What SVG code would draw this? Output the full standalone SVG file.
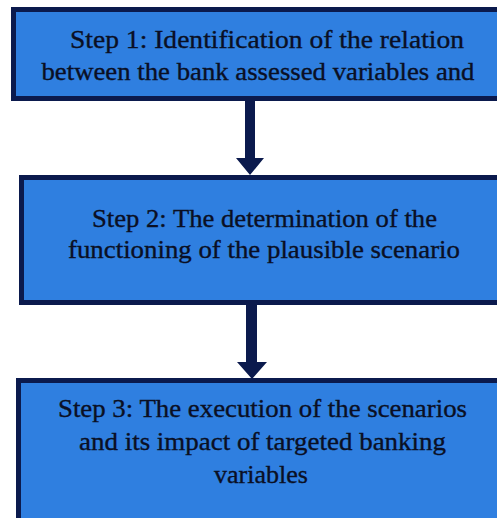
<svg xmlns="http://www.w3.org/2000/svg" width="497" height="518" viewBox="0 0 497 518">
  <style>
    .box { fill: #2f7fe0; stroke: #0b1a4d; stroke-width: 5; }
    .lbl { font-family: "Liberation Serif", "Times New Roman", serif; font-size: 26px; fill: #0a0f24; stroke: #0a0f24; stroke-width: 0.35; }
    .arrow { fill: #0b1a4d; }
  </style>
  <rect width="497" height="518" fill="#ffffff"/>
  <g id="connectors">
    <polygon class="arrow" points="245,100 255,100 255,158 264,158 250,175 236,158 245,158"/>
    <polygon class="arrow" points="246,304 257,304 257,362 267,362 252,379 237,362 246,362"/>
  </g>
  <g id="step1">
    <rect class="box" x="13.5" y="9.5" width="500" height="89"/>
    <text class="lbl" x="70" y="47.5" textLength="394" lengthAdjust="spacingAndGlyphs">Step 1: Identification of the relation</text>
    <text class="lbl" x="41.5" y="80" textLength="433" lengthAdjust="spacingAndGlyphs">between the bank assessed variables and</text>
  </g>
  <g id="step2">
    <rect class="box" x="21.5" y="177.5" width="500" height="125"/>
    <text class="lbl" x="92" y="227" textLength="345" lengthAdjust="spacingAndGlyphs">Step 2: The determination of the</text>
    <text class="lbl" x="68" y="258" textLength="392" lengthAdjust="spacingAndGlyphs">functioning of the plausible scenario</text>
  </g>
  <g id="step3">
    <rect class="box" x="18.5" y="380.5" width="500" height="160"/>
    <text class="lbl" x="58" y="417" textLength="409" lengthAdjust="spacingAndGlyphs">Step 3: The execution of the scenarios</text>
    <text class="lbl" x="79" y="450" textLength="367" lengthAdjust="spacingAndGlyphs">and its impact of targeted banking</text>
    <text class="lbl" x="214" y="483" textLength="94" lengthAdjust="spacingAndGlyphs">variables</text>
  </g>
</svg>
